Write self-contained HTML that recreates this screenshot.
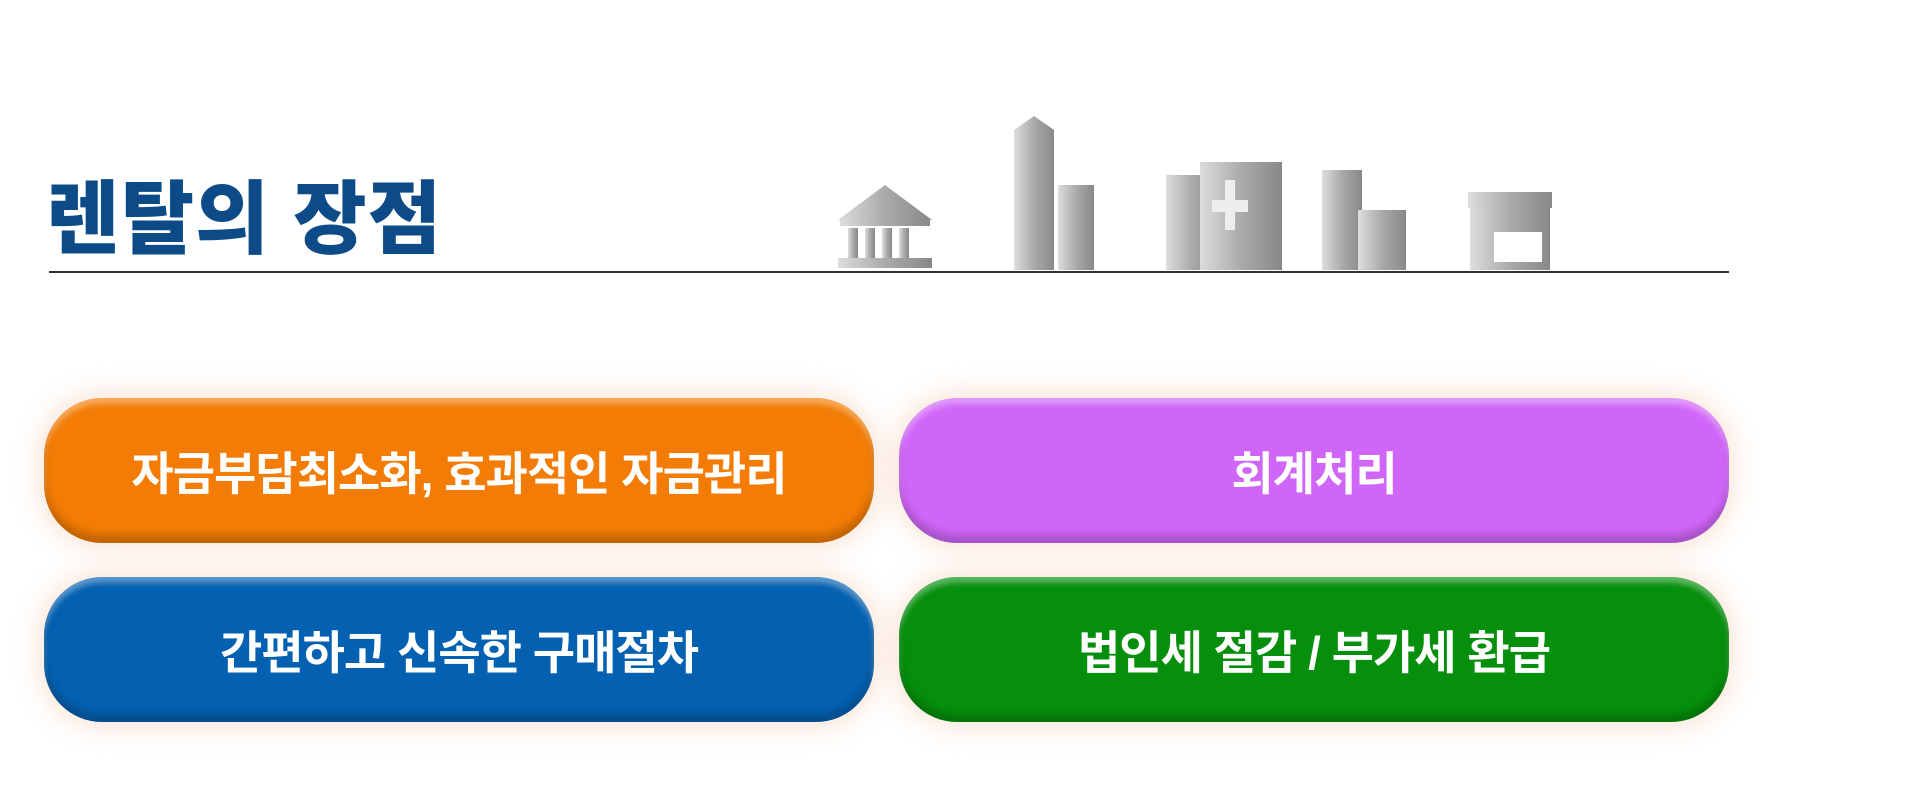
<!DOCTYPE html>
<html><head><meta charset="utf-8"><style>
body{margin:0;width:1920px;height:800px;background:#fff;position:relative;overflow:hidden;font-family:"Liberation Sans","Noto Sans CJK KR",sans-serif}
.t{position:absolute;left:46px;top:174px;font-size:80px;font-weight:900;color:#0c4a88;letter-spacing:1px;line-height:92px}
.ln{position:absolute;left:49px;top:271px;width:1680px;height:2px;background:#333}
.b{position:absolute;width:830px;height:145px;border-radius:58px;color:#fff;font-size:46px;font-weight:bold;display:flex;align-items:center;justify-content:center;letter-spacing:-1px;box-shadow:0 0 26px 6px rgba(245,200,170,.45), inset 0 -8px 8px rgba(0,0,0,.2), inset 0 6px 6px rgba(255,255,255,.35)}
</style></head><body>
<div class="t">렌탈의 장점</div>
<div class="ln"></div>
<svg style="position:absolute;left:0;top:0" width="1920" height="280">
<defs><linearGradient id="g" x1="0" x2="1"><stop offset="0" stop-color="#ddd"/><stop offset=".5" stop-color="#aaa"/><stop offset="1" stop-color="#888"/></linearGradient></defs>
<g fill="url(#g)">
<polygon points="838,220 885,185 932,220"/><rect x="840" y="220" width="90" height="6"/>
<rect x="848" y="228" width="10" height="30"/><rect x="865" y="228" width="10" height="30"/><rect x="882" y="228" width="10" height="30"/><rect x="899" y="228" width="10" height="30"/>
<rect x="838" y="258" width="94" height="10"/>
<rect x="1014" y="130" width="40" height="140"/><polygon points="1014,130 1034,116 1054,130"/><rect x="1058" y="185" width="36" height="85"/>
<rect x="1166" y="175" width="52" height="95"/><rect x="1200" y="162" width="82" height="108"/>
<rect x="1322" y="170" width="40" height="100"/><rect x="1358" y="210" width="48" height="60"/>
<rect x="1468" y="192" width="84" height="16"/><rect x="1470" y="208" width="80" height="62"/>
</g>
<rect x="1225" y="180" width="10" height="50" fill="#eee"/><rect x="1212" y="200" width="36" height="12" fill="#eee"/>
<rect x="1494" y="232" width="48" height="30" fill="#fff"/>
</svg>
<div class="b" style="left:44px;top:398px;background:#f27c05">자금부담최소화, 효과적인 자금관리</div>
<div class="b" style="left:899px;top:398px;background:#d066f8">회계처리</div>
<div class="b" style="left:44px;top:577px;background:#0460b0">간편하고 신속한 구매절차</div>
<div class="b" style="left:899px;top:577px;background:#058f0c">법인세 절감 / 부가세 환급</div>
</body></html>
